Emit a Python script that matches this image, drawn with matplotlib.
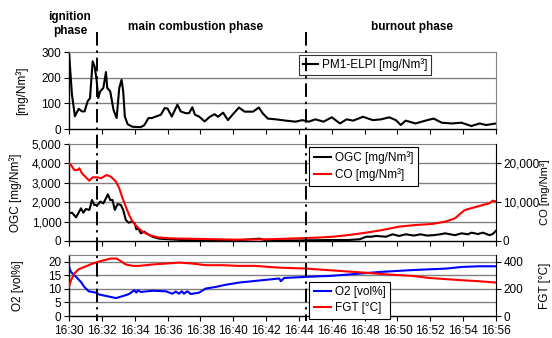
import matplotlib
matplotlib.use("Agg")
import matplotlib.pyplot as plt
import matplotlib.transforms as mtransforms
from matplotlib.lines import Line2D

plt.rcParams['font.family'] = ['Liberation Sans', 'DejaVu Sans']
plt.rcParams['font.size'] = 8.5

# ---- data (minutes after 16:30) ----
pm_t = [0, 0.18, 0.36, 0.59, 0.79, 0.95, 1.13, 1.28, 1.44, 1.56, 1.68, 1.78, 1.90, 2.09, 2.25, 2.33,
        2.51, 2.71, 2.90, 3.06, 3.20, 3.30, 3.40, 3.57, 3.87, 4.37, 4.58, 4.84, 5.04, 5.29, 5.59, 5.83,
        6.0, 6.26, 6.6, 6.8, 7.1, 7.31, 7.51, 7.67, 7.92, 8.26, 8.57, 8.87, 9.07, 9.38, 9.68, 9.98,
        10.35, 10.69, 11.2, 11.56, 11.8, 12.1, 12.6, 13.2, 13.8, 14.2, 14.6, 15.0, 15.5, 16.0, 16.5,
        16.9, 17.3, 17.9, 18.5, 19.0, 19.5, 19.9, 20.2, 20.5, 21.1, 21.7, 22.2, 22.7, 23.3, 23.9,
        24.5, 25.0, 25.4, 26.0]
pm_v = [300, 134, 50, 79, 69, 69, 108, 121, 264, 244, 192, 121, 147, 160, 222, 160,
        147, 75, 43, 160, 192, 147, 49, 19, 9, 8, 15, 43, 43, 49, 56, 82,
        80, 49, 95, 69, 62, 62, 85, 56, 49, 30, 48, 58, 48, 64, 35, 58,
        84, 68, 68, 84, 61, 41, 38, 33, 29, 35, 29, 38, 29, 46, 22,
        38, 33, 48, 35, 38, 46, 35, 16, 33, 22, 33, 41, 25, 22, 25,
        12, 22, 16, 22]

ogc_t = [0, 0.18, 0.43, 0.73, 0.87, 1.03, 1.24, 1.40, 1.54, 1.74, 1.90, 2.09, 2.25, 2.37, 2.51,
         2.65, 2.79, 2.96, 3.16, 3.30, 3.46, 3.63, 3.87, 4.0, 4.1, 4.23, 4.37, 4.58, 4.78, 5.08,
         5.49, 6.1, 6.9, 7.9, 10.0, 11.6, 12.0, 14.0, 16.0, 17.0, 17.7, 18.1, 18.4, 18.7, 19.3,
         19.7, 20.1, 20.5, 21.0, 21.4, 21.8, 22.2, 22.6, 22.9, 23.5, 23.9, 24.3, 24.5, 24.9, 25.2,
         25.6, 25.8, 26.0]
ogc_v = [1426, 1460, 1220, 1684, 1460, 1650, 1600, 2113, 1856, 1856, 2028, 1940, 2200, 2405, 2113,
         2113, 1600, 1907, 1856, 1600, 1080, 945, 995, 910, 600, 650, 395, 480, 360, 220,
         120, 90, 50, 30, 20, 120, 30, 30, 50, 50, 90, 220, 220, 260, 220,
         345, 260, 345, 280, 345, 280, 300, 345, 395, 300, 395, 345, 430, 360, 430,
         300, 360, 530]

co_t = [0, 0.12, 0.32, 0.53, 0.63, 0.79, 0.99, 1.24, 1.44, 1.74, 1.94, 2.29, 2.55, 2.86, 3.06,
        3.26, 3.46, 3.66, 3.87, 4.17, 4.48, 4.88, 5.39, 6.09, 6.9, 7.9, 10.0, 12.0, 14.0, 15.05,
        16.06, 17.07, 18.09, 19.1, 20.1, 21.1, 22.1, 22.9, 23.5, 23.8, 24.1, 24.6, 25.2, 25.6,
        25.8, 26.0]
co_v = [20000, 19590, 18300, 18300, 18740, 17450, 16570, 15540, 16410, 16410, 16150, 17010, 16570,
        15290, 13580, 11000, 8840, 6700, 4970, 3530, 2400, 1550, 950, 700, 620, 550, 350, 430, 700,
        860, 1100, 1550, 2150, 2840, 3700, 4120, 4380, 4970, 5840, 6960, 7990, 8580, 9280, 9710,
        10390, 10200]

o2_t = [0, 0.12, 0.43, 0.73, 0.93, 1.2, 1.64, 1.84, 2.25, 2.86, 3.26, 3.66, 3.97, 4.1, 4.2,
        4.37, 5.08, 5.89, 6.3, 6.5, 6.7, 6.87, 7.0, 7.2, 7.41, 7.92, 8.32, 8.93, 9.54, 10.35,
        11.16, 11.97, 12.8, 12.9, 13.1, 14.44, 15.86, 16.87, 18.9, 20.9, 22.95, 23.96, 24.97, 26.0]
o2_v = [18.1, 16.2, 14.4, 12.5, 10.7, 9.1, 8.6, 7.9, 7.4, 6.6, 7.3, 8.1, 9.5, 8.6, 9.5,
        8.85, 9.3, 9.1, 8.2, 9.0, 8.2, 9.1, 8.2, 9.1, 8.1, 8.6, 10.1, 10.7, 11.5, 12.3,
        12.8, 13.3, 13.8, 12.8, 14.0, 14.4, 14.75, 15.2, 16.2, 16.9, 17.45, 18.07, 18.3, 18.3]

fgt_t = [0, 0.12, 0.32, 0.59, 0.93, 1.34, 1.74, 2.15, 2.55, 2.90, 3.16, 3.46, 3.87, 4.27, 5.08,
         5.89, 6.70, 7.51, 8.32, 9.34, 10.35, 11.36, 12.17, 12.8, 14.44, 15.86, 17.88, 19.5,
         20.92, 21.93, 23.96, 24.97, 26.0]
fgt_v = [214, 263, 312, 344, 361, 381, 398, 411, 423, 423, 403, 379, 369, 369, 379,
         386, 393, 386, 374, 374, 369, 369, 361, 356, 349, 337, 320, 305,
         295, 280, 263, 256, 246]

x_ticks = [0, 2, 4, 6, 8, 10, 12, 14, 16, 18, 20, 22, 24, 26]
x_labels = ["16:30", "16:32", "16:34", "16:36", "16:38", "16:40", "16:42", "16:44",
            "16:46", "16:48", "16:50", "16:52", "16:54", "16:56"]
phase_bounds = [1.72, 14.46]
phase_names = ["ignition\nphase", "main combustion phase", "burnout phase"]

GRID = '#808080'

fig = plt.figure(figsize=(5.52, 3.38), dpi=100)
L, W = 0.125, 0.7736
ax1 = fig.add_axes([L, 0.618, W, 0.228])
ax2 = fig.add_axes([L, 0.287, W, 0.287])
ax3 = fig.add_axes([L, 0.065, W, 0.181])


def style(ax, grid_vals):
    ax.set_xlim(0, 26)
    ax.set_xticks(x_ticks)
    ax.tick_params(axis='both', direction='out', length=3.5, width=0.8, pad=2)
    for v in grid_vals:
        ax.axhline(v, color=GRID, lw=1.0, zorder=0)
    ax.spines['top'].set_color(GRID)
    ax.spines['right'].set_color(GRID)
    ax.spines['left'].set_color('black')
    ax.spines['bottom'].set_color('black')
    ax.spines['left'].set_linewidth(1.0)
    ax.spines['bottom'].set_linewidth(1.0)


# top panel
style(ax1, [100, 200])
ax1.plot(pm_t, pm_v, color='black', lw=1.5, label='PM1-ELPI [mg/Nm³]')
ax1.set_ylim(0, 300)
ax1.set_yticks([0, 100, 200, 300])
ax1.set_xticklabels([])
ax1.set_ylabel('[mg/Nm³]')
ax1.yaxis.set_label_coords(-0.095, 0.5)
leg1 = ax1.legend(loc='upper left', bbox_to_anchor=(0.539, 0.965), borderaxespad=0,
                  frameon=True, fancybox=False, edgecolor='black', handlelength=1.3,
                  handletextpad=0.3, borderpad=0.3, fontsize=8.5)
leg1.get_frame().set_linewidth(0.8)

# middle panel
style(ax2, [1000, 2000, 3000, 4000])
ax2b = ax2.twinx()
l_ogc, = ax2.plot(ogc_t, ogc_v, color='black', lw=1.5, label='OGC [mg/Nm³]')
l_co, = ax2b.plot(co_t, co_v, color='#ff0000', lw=1.5, label='CO [mg/Nm³]')
ax2.set_ylim(0, 5000)
ax2.set_yticks([0, 1000, 2000, 3000, 4000, 5000])
ax2.set_yticklabels(['0', '1,000', '2,000', '3,000', '4,000', '5,000'])
ax2.set_xticklabels([])
ax2b.set_ylim(0, 25000)
ax2b.set_yticks([0, 10000, 20000])
ax2b.set_yticklabels(['0', '10,000', '20,000'])
ax2b.tick_params(axis='y', direction='out', length=3.5, width=0.8, pad=1.5)
for s in ['top', 'left', 'bottom']:
    ax2b.spines[s].set_visible(False)
ax2b.spines['right'].set_color('black')
ax2.set_ylabel('OGC [mg/Nm³]')
ax2.yaxis.set_label_coords(-0.11, 0.5)
ax2b.set_ylabel('CO [mg/Nm³]', fontsize=8)
ax2b.yaxis.set_label_coords(1.104, 0.5)
leg2 = ax2b.legend(handles=[l_ogc, l_co], loc='upper left', bbox_to_anchor=(0.562, 0.97),
                   borderaxespad=0, frameon=True, fancybox=False, edgecolor='black',
                   handlelength=1.5, handletextpad=0.3, borderpad=0.4, labelspacing=0.3,
                   fontsize=8.5, framealpha=1)
leg2.get_frame().set_linewidth(0.8)

# bottom panel
style(ax3, [5, 10, 15, 20])
ax3b = ax3.twinx()
l_o2, = ax3.plot(o2_t, o2_v, color='#0000ff', lw=1.5, label='O2 [vol%]')
l_fgt, = ax3b.plot(fgt_t, fgt_v, color='#ff0000', lw=1.5, label='FGT [°C]')
ax3.set_ylim(0, 22.5)
ax3.set_yticks([0, 5, 10, 15, 20])
ax3.set_xticklabels(x_labels)
ax3.tick_params(axis='x', pad=3)
ax3b.set_ylim(0, 450)
ax3b.set_yticks([0, 200, 400])
ax3b.tick_params(axis='y', direction='out', length=3.5, width=0.8, pad=2)
for s in ['top', 'left', 'bottom']:
    ax3b.spines[s].set_visible(False)
ax3b.spines['right'].set_color('black')
ax3.set_ylabel('O2 [vol%]')
ax3.yaxis.set_label_coords(-0.105, 0.5)
ax3b.set_ylabel('FGT [°C]')
ax3b.yaxis.set_label_coords(1.1, 0.5)
leg3 = ax3b.legend(handles=[l_o2, l_fgt], loc='upper left', bbox_to_anchor=(0.562, 0.56),
                   borderaxespad=0, frameon=True, fancybox=False, edgecolor='black',
                   handlelength=1.5, handletextpad=0.3, borderpad=0.4, labelspacing=0.3,
                   fontsize=8.5, framealpha=1)
leg3.get_frame().set_linewidth(0.8)

# phase boundaries and names
trans = mtransforms.blended_transform_factory(ax1.transData, fig.transFigure)
for b in phase_bounds:
    fig.add_artist(Line2D([b, b], [1 - 32 / 338, 1 - 321 / 338], transform=trans,
                          color='black', lw=1.4, linestyle=(0, (7, 2.5, 1.2, 2.5)),
                          zorder=10))
phase_x = [0.05, 7.7, 20.9]
for px, name, yy in zip(phase_x, phase_names, [1 - 24 / 338, 1 - 27 / 338, 1 - 27 / 338]):
    fig.text(px, yy, name, transform=trans, ha='center', va='center',
             fontweight='bold', fontsize=8.5, linespacing=1.15)

fig.savefig('out.png', dpi=100)
